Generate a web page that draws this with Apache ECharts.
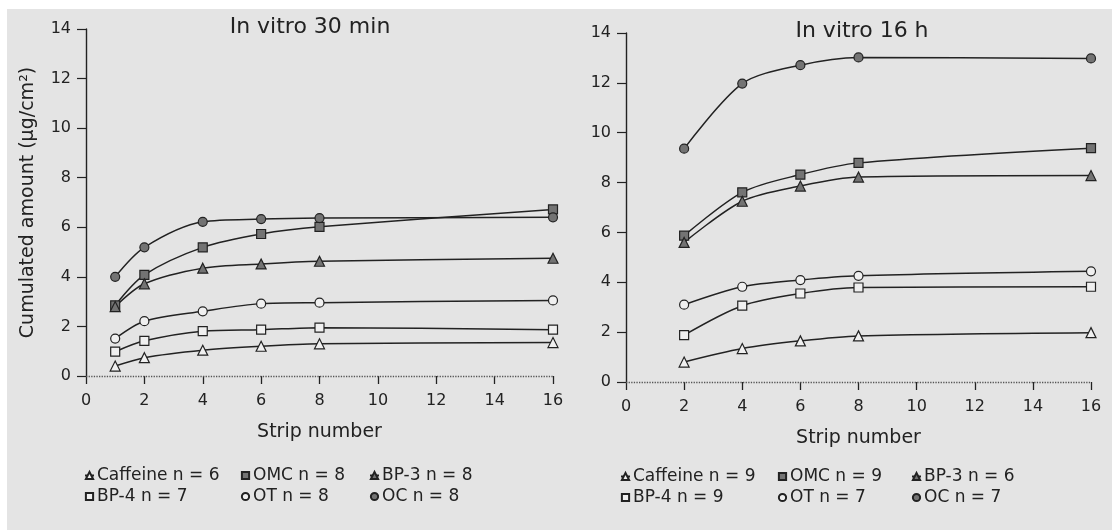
<!DOCTYPE html>
<html>
<head>
<meta charset="utf-8">
<script src="https://cdn.jsdelivr.net/npm/echarts@6/dist/echarts.min.js"></script>
<style>
html,body{margin:0;padding:0;background:#fff;}
#wrap{position:absolute;left:7px;top:9px;width:1105px;height:521px;background:#e4e4e4;}
#chart{position:absolute;left:-7px;top:-9px;width:1112px;height:530px;}
</style>
</head>
<body>
<div id="wrap"><div id="chart"></div></div>
<script>
// ---- data ----
const strips30 = [1, 2, 4, 6, 8, 16];
const strips16 = [2, 4, 6, 8, 16];
const xTicks = [0, 2, 4, 6, 8, 10, 12, 14, 16];
const yTicks = [0, 2, 4, 6, 8, 10, 12, 14];

const names30 = ['Caffeine n = 6', 'OMC n = 8', 'BP-3 n = 8', 'BP-4 n = 7', 'OT n = 8', 'OC n = 8'];
const caffeine30 = [0.40, 0.74, 1.04, 1.20, 1.30, 1.35];
const omc30      = [2.85, 4.08, 5.19, 5.73, 6.02, 6.72];
const bp3_30     = [2.80, 3.72, 4.35, 4.52, 4.63, 4.75];
const bp4_30     = [0.98, 1.42, 1.81, 1.87, 1.95, 1.87];
const ot30       = [1.51, 2.21, 2.61, 2.92, 2.96, 3.05];
const oc30       = [4.00, 5.19, 6.22, 6.33, 6.37, 6.40];

const names16 = ['Caffeine n = 9', 'OMC n = 9', 'BP-3 n = 6', 'BP-4 n = 9', 'OT n = 7', 'OC n = 7'];
const caffeine16 = [0.80, 1.34, 1.65, 1.85, 1.98];
const omc16      = [5.87, 7.61, 8.32, 8.79, 9.38];
const bp3_16     = [5.60, 7.25, 7.86, 8.22, 8.28];
const bp4_16     = [1.88, 3.06, 3.55, 3.79, 3.82];
const ot16       = [3.10, 3.82, 4.09, 4.26, 4.44];
const oc16       = [9.36, 11.97, 12.71, 13.02, 12.98];

const titles = ['In vitro 30 min', 'In vitro 16 h'];
const xName = 'Strip number';
const yName = 'Cumulated amount (µg/cm²)';

// ---- styles ----
const FONT = 'DejaVu Sans, sans-serif';
const INK = '#222';
const FILL = '#737373';
const styles = [
  {symbol: 'triangle', fill: '#f0f0f0'},
  {symbol: 'rect', fill: FILL},
  {symbol: 'triangle', fill: FILL},
  {symbol: 'rect', fill: '#f0f0f0'},
  {symbol: 'circle', fill: '#f0f0f0'},
  {symbol: 'circle', fill: FILL}
];

function pair(xs, ys) { return xs.map((x, i) => [x, ys[i]]); }

const series = [];
function addSeries(names, datas, xs, idx) {
  datas.forEach((d, i) => {
    const s = {
      type: 'line', name: names[i], xAxisIndex: idx, yAxisIndex: idx,
      data: pair(xs, d), smooth: 0.3,
      symbol: styles[i].symbol, symbolSize: styles[i].symbol === 'triangle' ? 10 : 9,
      lineStyle: {color: INK, width: 1.5},
      itemStyle: {color: styles[i].fill, borderColor: INK, borderWidth: 1.2},
      z: 3
    };
    if (i === 0) {
      s.markLine = {
        silent: true, symbol: 'none', label: {show: false},
        lineStyle: {color: '#555', type: 'dotted', width: 1.3},
        data: [{yAxis: 0}]
      };
    }
    series.push(s);
  });
}
addSeries(names30, [caffeine30, omc30, bp3_30, bp4_30, ot30, oc30], strips30, 0);
addSeries(names16, [caffeine16, omc16, bp3_16, bp4_16, ot16, oc16], strips16, 1);

const grids = [
  {left: 86, top: 29, width: 467, height: 347},
  {left: 626, top: 33, width: 465, height: 349}
];

function xAxis(i) {
  return {
    type: 'value', gridIndex: i, min: xTicks[0], max: xTicks[xTicks.length - 1], interval: 2,
    offset: 6,
    name: xName, nameLocation: 'middle', nameGap: 41,
    nameTextStyle: {fontFamily: FONT, fontSize: 19, color: INK},
    axisLine: {show: false},
    axisTick: {show: true, length: 8, lineStyle: {color: INK, width: 1.3}},
    axisLabel: {fontFamily: FONT, fontSize: 16, color: INK, margin: 11},
    splitLine: {show: false}
  };
}
function yAxis(i) {
  return {
    type: 'value', gridIndex: i, min: yTicks[0], max: yTicks[yTicks.length - 1], interval: 2,
    name: i === 0 ? yName : '', nameLocation: 'middle', nameGap: 48, nameRotate: 90,
    nameTextStyle: {fontFamily: FONT, fontSize: 19, color: INK},
    axisLine: {show: true, lineStyle: {color: INK, width: 1.4}},
    axisTick: {show: true, length: 9, lineStyle: {color: INK, width: 1.2}},
    axisLabel: {fontFamily: FONT, fontSize: 16, color: INK, margin: 15},
    splitLine: {show: false}
  };
}

function legendCol(names, left, top) {
  return {
    orient: 'vertical', left: left, top: top, data: names,
    itemWidth: 9, itemHeight: 9, itemGap: 4, padding: 0,
    textStyle: {fontFamily: FONT, fontSize: 17, color: INK, padding: [0, 0, 0, -2]},
    selectedMode: false
  };
}

const option = {
  animation: false,
  backgroundColor: 'transparent',
  title: [
    {text: titles[0], left: 310, top: 16, textAlign: 'center', padding: 0,
     textStyle: {fontFamily: FONT, fontSize: 22, fontWeight: 'normal', color: INK}},
    {text: titles[1], left: 862, top: 20, textAlign: 'center', padding: 0,
     textStyle: {fontFamily: FONT, fontSize: 22, fontWeight: 'normal', color: INK}}
  ],
  grid: grids,
  xAxis: [xAxis(0), xAxis(1)],
  yAxis: [yAxis(0), yAxis(1)],
  legend: [
    legendCol([names30[0], names30[3]], 84, 467),
    legendCol([names30[1], names30[4]], 240, 467),
    legendCol([names30[2], names30[5]], 369, 467),
    legendCol([names16[0], names16[3]], 620, 468),
    legendCol([names16[1], names16[4]], 777, 468),
    legendCol([names16[2], names16[5]], 911, 468)
  ],
  series: series
};

const chart = echarts.init(document.getElementById('chart'), null, {renderer: 'canvas'});
chart.setOption(option);
</script>
</body>
</html>
